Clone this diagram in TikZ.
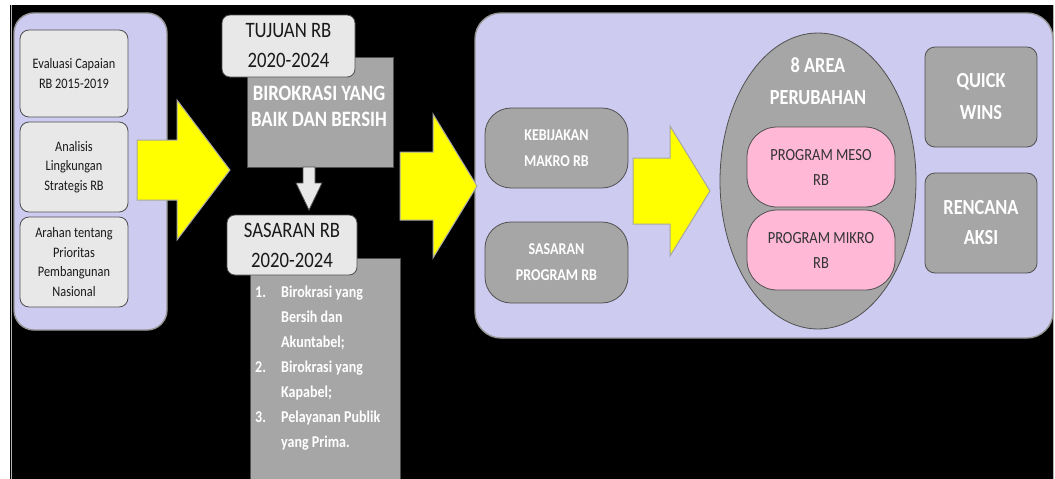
\documentclass[tikz,border=0pt]{standalone}
\usepackage{fontspec}
\setmainfont{Carlito}[FakeStretch=0.85]
\usetikzlibrary{shapes.geometric}
\definecolor{lav}{RGB}{205,203,240}
\definecolor{lightbox}{RGB}{232,232,232}
\definecolor{gbox}{RGB}{166,166,166}
\definecolor{pinkbox}{RGB}{255,184,214}
\definecolor{edge}{RGB}{80,80,80}
\definecolor{arrowyel}{RGB}{255,255,0}
\tikzset{
  sz/.style 2 args={minimum width=#1pt, minimum height=#2pt},
  panel/.style={fill=lav, draw=edge!60, line width=1.4pt, rounded corners=20pt, inner sep=0pt},
  lbox/.style={fill=lightbox, draw=edge, line width=0.8pt, rounded corners=9pt, inner sep=0pt, align=center, text=black!90},
  gboxs/.style={fill=gbox, draw=edge, line width=0.8pt, inner sep=0pt, align=center, text=white},
  pbox/.style={fill=pinkbox, draw=edge, line width=0.8pt, rounded corners=30pt, inner sep=0pt, align=center, text=black!80},
  yarrow/.style={fill=arrowyel, draw=gray!70, line width=1pt, line join=miter},
  garrow/.style={fill=lightbox, draw=edge, line width=0.8pt},
  fsmall/.style={font=\fontsize{14.5}{19.5}\selectfont},
  fmid/.style={font=\bfseries\fontsize{16.5}{26}\selectfont},
  fbig/.style={font=\fontsize{22}{30}\selectfont},
  txt/.style={inner sep=0pt, align=center, text=white}
}
\begin{document}
\begin{tikzpicture}[x=1pt,y=-1pt]
\useasboundingbox (0,0) rectangle (1055,479);
\fill[white] (0,0) rectangle (1055,479);
\fill[black] (10,5) rectangle (1053,479);
\draw[gray!60, line width=1pt] (11.5,5) -- (11.5,479);
\draw[gray!60, line width=1pt] (1053,5) -- (1053,479);

% left panel
\node[panel, sz={153}{317}] (lpanel) at (90.5,171.5) {};
\node[lbox, fsmall, sz={108}{87}] (evl) at (74,73.5) {Evaluasi Capaian\\RB 2015-2019};
\node[lbox, fsmall, sz={108}{90}] (anl) at (74,167) {Analisis\\Lingkungan\\Strategis RB};
\node[lbox, fsmall, sz={108}{90}] (arh) at (74,262) {Arahan tentang\\Prioritas\\Pembangunan\\Nasional};

% arrow 1
\draw[yarrow] (137,140) -- (177,140) -- (177,100) -- (230,170) -- (177,240) -- (177,200) -- (137,200) -- cycle;

% tujuan
\node[gboxs, sz={146}{110}] (tbody) at (320,112) {};
\node[txt, font=\bfseries\fontsize{22}{26}\selectfont] (ttext) at (319,106) {BIROKRASI YANG\\BAIK DAN BERSIH};
\node[lbox, fbig, sz={133}{62}, rounded corners=8pt] (thead) at (288.5,46) {TUJUAN RB\\2020-2024};

% down arrow
\draw[garrow] (303,167) -- (315,167) -- (315,183) -- (322,183) -- (309,210) -- (296,183) -- (303,183) -- cycle;

% sasaran
\node[gboxs, sz={150}{222}] (sbody) at (325,369) {};
\node[txt, anchor=north west, align=left, font=\bfseries\fontsize{16.5}{25}\selectfont] (stext) at (255,280)
  {\begin{tabular}{@{}p{26pt}@{}l@{}}
   1. & Birokrasi yang\\
      & Bersih dan\\
      & Akuntabel;\\
   2. & Birokrasi yang\\
      & Kapabel;\\
   3. & Pelayanan Publik\\
      & yang Prima.
   \end{tabular}};
\node[lbox, fbig, sz={130}{60}, rounded corners=8pt] (shead) at (292,245) {SASARAN RB\\2020-2024};

% right panel
\node[panel, sz={578}{325}, rounded corners=26pt] (rpanel) at (764,175.5) {};

% arrow 2
\draw[yarrow] (400,152) -- (433,152) -- (433,114) -- (477,186) -- (433,258) -- (433,220) -- (400,220) -- cycle;

\node[gboxs, fmid, sz={143}{80}, rounded corners=26pt] (kebij) at (556.5,148) {KEBIJAKAN\\MAKRO RB};
\node[gboxs, fmid, sz={143}{81}, rounded corners=26pt] (sprog) at (556.5,262.5) {SASARAN\\PROGRAM RB};

% arrow 3
\draw[yarrow] (633,158) -- (670,158) -- (670,126) -- (710,191) -- (670,256) -- (670,224) -- (633,224) -- cycle;

\node[ellipse, fill=gbox, draw=edge, line width=0.8pt, sz={196}{296}, inner sep=0pt] (area) at (818,181) {};
\node[txt, font=\bfseries\fontsize{21.5}{32}\selectfont] (areatext) at (818,81) {8 AREA\\PERUBAHAN};
\node[pbox, sz={148}{80}, font=\fontsize{17}{25}\selectfont] (meso) at (821,167) {PROGRAM MESO\\RB};
\node[pbox, sz={148}{80}, font=\fontsize{17}{25}\selectfont] (mikro) at (821,250) {PROGRAM MIKRO\\RB};

\node[gboxs, sz={112}{100}, rounded corners=10pt, font=\bfseries\fontsize{21.5}{32}\selectfont] (quick) at (981,97) {QUICK\\WINS};
\node[gboxs, sz={112}{100}, rounded corners=10pt, font=\bfseries\fontsize{21.5}{30}\selectfont] (renc) at (981,223) {RENCANA\\AKSI};
\end{tikzpicture}
\end{document}
